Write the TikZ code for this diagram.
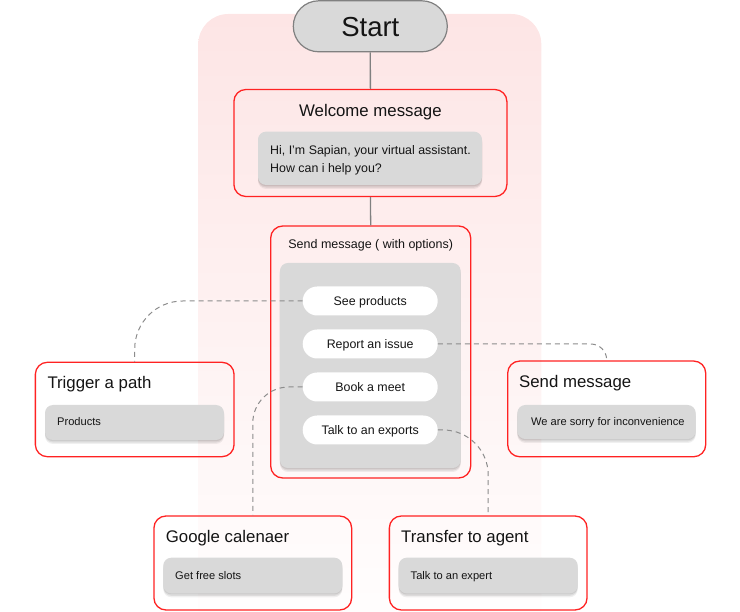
\documentclass[tikz,border=0pt]{standalone}
\usepackage{fontspec}
\setmainfont{Liberation Sans}
\usetikzlibrary{shadows}
\definecolor{boxred}{HTML}{FF2222}
\definecolor{cardgray}{HTML}{D9D9D9}
\definecolor{linegray}{HTML}{808080}
\definecolor{dashgray}{HTML}{8C8C8C}
\definecolor{bgpink}{HTML}{FDE5E5}
\definecolor{ink}{HTML}{141414}
\newcommand{\myfs}[1]{\fontsize{#1}{#1}\selectfont}
\begin{document}
\begin{tikzpicture}[x=1pt,y=-1pt,
  redbox/.style={draw=boxred, line width=1.3pt, rounded corners=12pt, inner sep=0pt},
  card/.style={fill=cardgray, rounded corners=8pt, inner sep=0pt,
    drop shadow={shadow xshift=0pt, shadow yshift=-1.2pt, opacity=.08, fill=black},
    drop shadow={shadow xshift=0pt, shadow yshift=-2.6pt, opacity=.08, fill=black},
    drop shadow={shadow xshift=0pt, shadow yshift=-4pt, opacity=.06, fill=black}},
  pill/.style={fill=white, rounded corners=14.5pt, minimum width=135pt, minimum height=29pt,
    inner sep=0pt, text height=8.9pt, text depth=0pt, font=\myfs{12.4}, text=ink},
  titletext/.style={font=\myfs{16.8}, text=ink, inner sep=0pt},
  smalltext/.style={font=\myfs{11.1}, text=ink, inner sep=0pt},
  midtext/.style={font=\myfs{12.4}, text=ink, inner sep=0pt},
  dashlink/.style={draw=dashgray, line width=1pt, dash pattern=on 5pt off 4pt},
  solidlink/.style={draw=linegray, line width=1.3pt}]
\clip (0,0) rectangle (740,612);
% background panel
\node[shade, top color=bgpink, middle color=bgpink!22!white, bottom color=white, rounded corners=30pt,
  minimum width=343pt, minimum height=640pt, inner sep=0pt] (panel) at (369.8,334) {};

% nodes
\node[fill=cardgray, draw=linegray, line width=1.2pt, rounded corners=25.5pt,
  minimum width=154pt, minimum height=51pt, inner sep=0pt,
  text height=19.5pt, text depth=0pt, font=\myfs{27.5}, text=ink] (start) at (370.3,26.3) {Start};

\node[redbox, minimum width=273pt, minimum height=107pt] (welcome) at (370.4,143) {};
\node[titletext, anchor=base] (welcomet) at (370.4,116.5) {Welcome message};
\node[card, minimum width=224pt, minimum height=53.3pt] (hicard) at (370,158.3) {};
\node[midtext, anchor=base west] (hi1) at (270,155) {Hi, I’m Sapian, your virtual assistant.};
\node[midtext, anchor=base west] (hi2) at (270,173) {How can i help you?};

\node[redbox, minimum width=200pt, minimum height=252pt] (sendopt) at (370.7,352) {};
\node[font=\myfs{12.5}, text=ink, inner sep=0pt, anchor=base] (sendoptt) at (370.7,248.3) {Send message ( with options)};
\node[card, minimum width=180.7pt, minimum height=205pt] (optcard) at (370.3,365.5) {};
\node[pill] (see) at (370.2,301) {See products};
\node[pill] (report) at (370.2,344) {Report an issue};
\node[pill] (book) at (370.2,387) {Book a meet};
\node[pill] (talk) at (370.2,430) {Talk to an exports};

\node[redbox, minimum width=198.7pt, minimum height=94.4pt] (trigger) at (134.7,409.5) {};
\node[titletext, anchor=base west] (triggert) at (47.3,389) {Trigger a path};
\node[card, minimum width=179pt, minimum height=35pt] (prodcard) at (134.5,422.5) {};
\node[smalltext, anchor=base west] (prodt) at (57,426) {Products};

\node[redbox, minimum width=198pt, minimum height=95.7pt] (sendmsg) at (606.7,408.9) {};
\node[titletext, anchor=base west] (sendmsgt) at (519,388) {Send message};
\node[card, minimum width=178.4pt, minimum height=34pt] (sorrycard) at (606.5,422) {};
\node[smalltext, anchor=base west] (sorryt) at (531,426) {We are sorry for inconvenience};

\node[redbox, minimum width=197.7pt, minimum height=94pt] (google) at (252.8,563) {};
\node[titletext, anchor=base west] (googlet) at (165.7,542.5) {Google calenaer};
\node[card, minimum width=179pt, minimum height=35.6pt] (freecard) at (252.8,575.5) {};
\node[smalltext, anchor=base west] (freet) at (175,579.3) {Get free slots};

\node[redbox, minimum width=197.7pt, minimum height=94pt] (transfer) at (488.2,563) {};
\node[titletext, anchor=base west] (transfert) at (401,542.5) {Transfer to agent};
\node[card, minimum width=179pt, minimum height=35.6pt] (expertcard) at (488.2,575.5) {};
\node[smalltext, anchor=base west] (expertt) at (410.5,579.3) {Talk to an expert};

% connectors
\draw[solidlink] (start.south) -- (welcome.north);
\draw[solidlink] (welcome.south) -- (sendopt.north);
\draw[dashlink, rounded corners=48pt] (see.west) -| (trigger.north);
\draw[dashlink, rounded corners=16pt] (report.east) -| (sendmsg.north);
\draw[dashlink, rounded corners=36pt] (book.west) -| (google.north);
\draw[dashlink, rounded corners=45pt] (talk.east) -| (transfer.north);
\end{tikzpicture}
\end{document}
